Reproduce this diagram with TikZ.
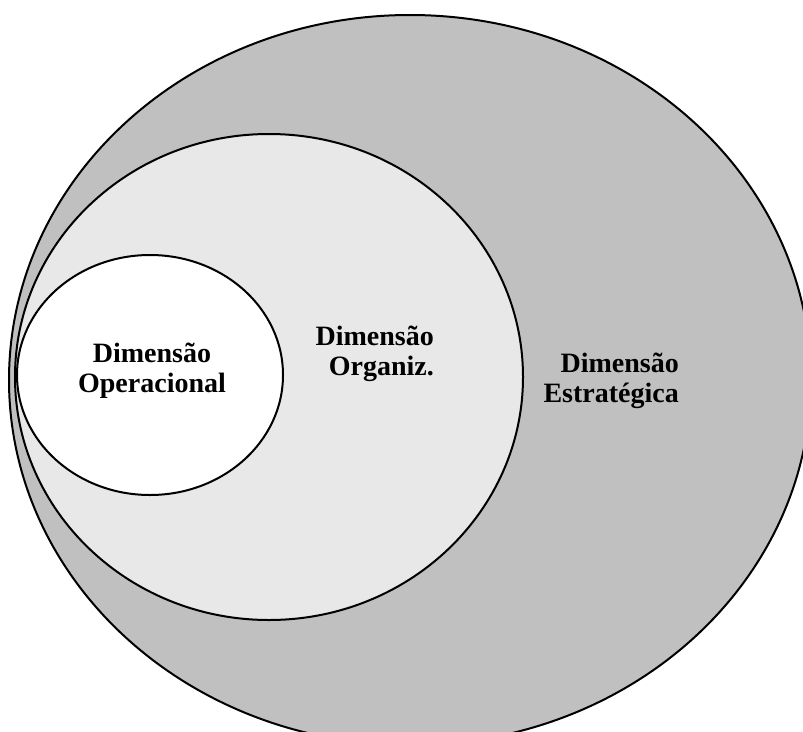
\documentclass[tikz,border=0pt]{standalone}
\usepackage{fontspec}
\setmainfont{Liberation Serif}
\begin{document}
\begin{tikzpicture}[x=1pt,y=-1pt,
  ring/.style={draw=black,line width=2pt},
  label/.style={font=\bfseries\fontsize{28}{30}\selectfont,inner sep=0pt}]
\useasboundingbox (0,0) rectangle (803,731);
\clip (0,0) rectangle (803,731);
% nested dimensions, from the widest to the narrowest
\draw[ring,fill={rgb,255:red,192;green,192;blue,192}] (410,380) ellipse [x radius=401,y radius=365];
\draw[ring,fill={rgb,255:red,232;green,232;blue,232}] (269,377) ellipse [x radius=254,y radius=243];
\draw[ring,fill=white] (150,375) ellipse [x radius=133,y radius=120];
% labels
\node[label,align=center] (oper) at (152,371) {Dimensão\\Operacional};
\node[label,align=right,anchor=east] (org) at (434,354) {Dimensão\\Organiz.};
\node[label,align=right,anchor=east] (estr) at (679,381) {Dimensão\\Estratégica};
\end{tikzpicture}
\end{document}
